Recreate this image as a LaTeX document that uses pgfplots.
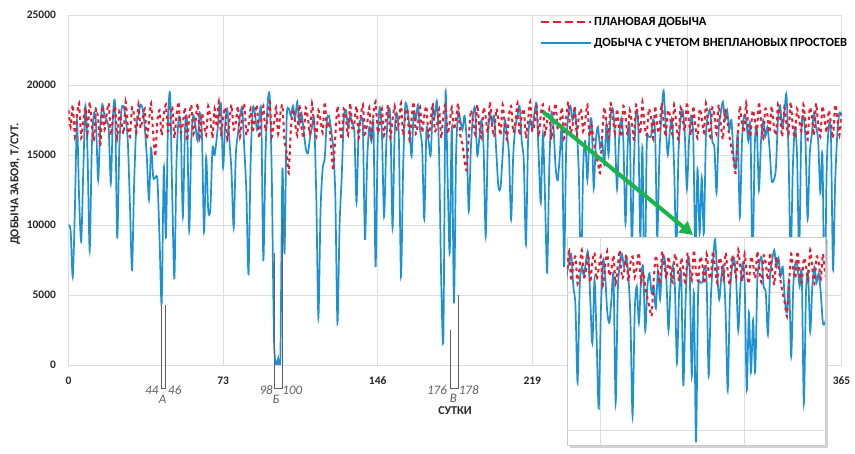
\documentclass[border=0pt]{standalone}
\usepackage{pgfplots}
\pgfplotsset{compat=1.18}
\usepackage{pgfplotstable}
\usepackage{graphicx}
\usepackage{fontspec}
\setmainfont{Carlito}
\usetikzlibrary{arrows.meta,shadows}
\definecolor{planred}{RGB}{232,28,48}
\definecolor{factblue}{RGB}{28,146,212}
\definecolor{gridgray}{RGB}{222,222,222}
\definecolor{arrowgreen}{RGB}{28,180,72}
\definecolor{annot}{RGB}{95,95,95}

\pgfplotstableread{
day plan fact
0 18200 10000
1 17000 9600
2 18600 6300
3 16300 11000
4 17800 17500
5 18700 12000
6 16200 8800
7 17500 14000
8 18400 18500
9 16600 15000
10 18800 8200
11 17200 15500
12 16100 18000
13 18300 17200
14 17600 13200
15 15600 17000
16 18500 18600
17 16800 17800
18 17900 17500
19 18700 16800
20 16400 13000
21 17700 17800
22 18500 18500
23 16200 9100
24 18100 15500
25 17300 18200
26 16500 18500
27 18800 17600
28 17000 16000
29 16300 11500
30 18400 6800
31 17800 13000
32 16600 17000
33 18600 17800
34 16900 18600
35 17600 18300
36 18300 17000
37 16100 14800
38 17400 11800
39 18700 15500
40 16500 13400
41 14900 13400
42 17500 13200
43 18200 9000
44 16400 4400
45 17900 14100
46 18600 9100
47 16700 17500
48 17300 19300
49 18500 12000
50 16200 6200
51 17800 14500
52 18800 17600
53 16600 17000
54 17200 10600
55 18400 16800
56 16000 17400
57 17700 9600
58 18600 16200
59 16500 17800
60 17400 17000
61 18700 16000
62 16300 18000
63 18000 16500
64 17100 9500
65 16400 14800
66 18500 11000
67 17600 11200
68 16200 15500
69 18300 15000
70 17000 16200
71 18800 17800
72 16500 18600
73 17700 14100
74 18400 17200
75 16100 18300
76 17500 16000
77 18600 13700
78 16800 9800
79 17300 15000
80 18500 16500
81 16300 17800
82 17900 18300
83 18700 15500
84 16400 12300
85 17100 6500
86 18300 14500
87 16600 18300
88 17800 18000
89 18600 16800
90 16200 17500
91 17400 18000
92 18500 7500
93 16700 15000
94 17600 18600
95 18800 19200
96 16300 13400
97 17200 2000
98 18400 0
99 16500 500
100 17900 0
101 18600 14000
102 16000 8000
103 15200 17500
104 13700 18300
105 16800 17800
106 18300 18500
107 17300 17600
108 16400 18800
109 18600 17200
110 17000 18000
111 16200 16800
112 18400 15500
113 17700 15100
114 16500 16200
115 18700 17000
116 17100 17500
117 16300 12000
118 18200 3400
119 17500 11000
120 16600 14000
121 18800 14800
122 16900 17500
123 17400 17800
124 15600 16800
125 13900 15500
126 16400 12000
127 18500 3000
128 17200 10000
129 16100 13400
130 18300 17600
131 17600 18200
132 16400 17000
133 18700 17800
134 16900 17200
135 17300 16600
136 18500 11600
137 16200 16800
138 17800 17500
139 18600 17000
140 16500 9000
141 17200 14500
142 18400 17000
143 16300 16000
144 17900 17200
145 18800 7000
146 16600 16000
147 17100 18400
148 18300 16500
149 16400 10600
150 17700 15500
151 18600 18200
152 16200 17500
153 17500 9800
154 18500 16500
155 16800 18000
156 17300 16200
157 18700 6300
158 16400 14000
159 17900 18500
160 18300 18300
161 16100 17000
162 17600 14900
163 18800 18000
164 16500 17500
165 17200 18600
166 18400 16800
167 16600 15500
168 17800 10400
169 18500 16800
170 16300 16000
171 17400 15000
172 18700 18200
173 16700 17800
174 17100 18800
175 18300 15000
176 16200 6000
177 17900 1900
178 18600 19300
179 16500 13500
180 17300 8000
181 18400 17000
182 16800 4400
183 17600 15000
184 18700 18000
185 16400 17500
186 15800 16800
187 14600 17800
188 13900 16000
189 16300 11000
190 18200 15500
191 17400 17800
192 16500 18300
193 18600 15000
194 17000 16200
195 16200 17500
196 18400 15500
197 17700 9200
198 16600 16000
199 18800 18000
200 17100 17200
201 16300 17800
202 18300 15200
203 17500 12700
204 16400 12700
205 18600 15000
206 17200 17500
207 16100 16500
208 17900 15000
209 18500 10400
210 16600 15000
211 17300 17000
212 18700 17800
213 16400 18500
214 17800 16000
215 18300 14500
216 16200 8600
217 17500 16000
218 18800 17500
219 16700 16800
220 17200 18000
221 18500 18600
222 16300 15000
223 17900 11600
224 18600 16500
225 16500 12000
226 17400 6600
227 18300 14000
228 16100 18000
229 17700 17000
230 18700 14100
231 16800 13200
232 17300 15000
233 18400 16800
234 16200 7000
235 17600 15500
236 18800 17800
237 16600 18500
238 17100 17500
239 18500 18200
240 16400 16800
241 17800 13500
242 18300 6000
243 16700 14000
244 17500 16000
245 18600 13200
246 16300 16500
247 17100 17500
248 16000 12600
249 15100 16000
250 14400 17000
251 13700 15500
252 16500 16000
253 18400 14300
254 17300 17200
255 16200 15000
256 18700 17800
257 17600 18300
258 16600 16500
259 18300 12600
260 17000 16200
261 16300 17600
262 18500 16000
263 17800 10100
264 16400 15500
265 18200 17000
266 17300 8400
267 16100 14500
268 18600 18000
269 17500 17200
270 16500 9100
271 18800 15500
272 17100 4000
273 16400 15500
274 18300 16300
275 17700 16300
276 16200 17500
277 18500 16500
278 17000 9100
279 16600 15000
280 18700 17800
281 17400 19600
282 16300 17000
283 18200 15000
284 17800 16800
285 16500 17500
286 18600 14000
287 17200 8000
288 16100 15000
289 18400 17500
290 17600 18200
291 16700 16500
292 18800 12600
293 17300 16000
294 16400 17800
295 18500 16300
296 17000 8000
297 16200 14000
298 18300 9400
299 17700 13400
300 16600 9400
301 18700 16500
302 17100 17800
303 16300 18200
304 18400 16000
305 17800 15500
306 16500 12300
307 18600 16800
308 17200 18000
309 16100 18800
310 18300 17500
311 17500 18200
312 16400 16800
313 15500 17500
314 14700 15000
315 13700 14000
316 16200 16500
317 18500 10600
318 17300 16000
319 16600 17800
320 18700 17500
321 17000 16000
322 16300 17000
323 18200 7000
324 17600 15500
325 16500 17000
326 18800 12500
327 17400 16000
328 16200 17500
329 18300 16300
330 17900 17000
331 16600 15500
332 18500 13200
333 17100 13200
334 16400 14000
335 18600 17500
336 17700 18500
337 16300 17000
338 18400 18000
339 17200 19300
340 16500 15000
341 18800 7500
342 17000 14000
343 16200 17000
344 18300 15000
345 17500 8000
346 16700 16500
347 18600 17800
348 17300 16000
349 16100 10400
350 18400 15000
351 17800 16500
352 16400 18000
353 18700 17000
354 17100 16000
355 16300 12300
356 18500 15000
357 17600 4300
358 16600 14000
359 18200 17000
360 17300 16500
361 16200 6800
362 18600 13000
363 17700 16500
364 16400 18000
365 18000 17800
}\datatable

\newcommand{\annfont}{\fontsize{13}{13}\selectfont\itshape}

\begin{document}
\begin{tikzpicture}
\useasboundingbox (0,0) rectangle (855pt,454pt);
\begin{axis}[
  at={(68.5pt,89pt)}, anchor=south west,
  scale only axis, width=773pt, height=350pt,
  xmin=0, xmax=365, ymin=0, ymax=25000,
  xtick={0,73,146,219,292,365},
  ytick={0,5000,10000,15000,20000,25000},
  scaled ticks=false,
  grid=major,
  major grid style={draw=gridgray, line width=0.7pt},
  axis line style={draw=gridgray, line width=0.7pt},
  major tick length=0pt,
  tick label style={font=\fontsize{11.5}{12}\selectfont\bfseries, text=black!85},
  /pgf/number format/assume math mode=true,
  /pgf/number format/1000 sep={},
  yticklabel style={xshift=-9pt},
  xticklabel style={yshift=-8pt},
  ylabel={ДОБЫЧА ЗАБОЯ, Т/СУТ.},
  ylabel style={at={(axis description cs:-0.0692,0.517)}, anchor=center, font=\fontsize{12}{13}\selectfont\bfseries, text=black!85},
  xlabel={СУТКИ},
  xlabel style={at={(axis description cs:0.5,-0.131)}, anchor=center, font=\fontsize{12}{13}\selectfont\bfseries, text=black!85},
  clip mode=individual,
  legend style={at={(0.61,1.0)}, anchor=north west, draw=none, fill=none,
    inner sep=0pt, font=\fontsize{12.5}{13}\selectfont\bfseries, row sep=7pt,
    /tikz/every even column/.append style={column sep=3pt}},
  legend image code/.code={\draw[#1] (0pt,0pt) -- (50pt,0pt);},
  legend cell align=left,
]
\addlegendimage{planred, line width=2pt, dash pattern=on 8pt off 4pt}
\addlegendentry{ПЛАНОВАЯ ДОБЫЧА}
\addlegendimage{factblue, line width=1.8pt}
\addlegendentry{ДОБЫЧА С УЧЕТОМ ВНЕПЛАНОВЫХ ПРОСТОЕВ}

\addplot[factblue, line width=1.7pt, smooth, tension=0.45, forget plot] table[x=day,y=fact]{\datatable};
\addplot[planred, line width=2pt, dash pattern=on 3.5pt off 3.5pt, smooth, tension=0.3, forget plot] table[x=day,y=plan]{\datatable};

% annotations A, B, V
\draw[annot, line width=0.6pt] (axis cs:43.6,4300) -- (axis cs:43.6,-1640) -- (axis cs:45.9,-1640) -- (axis cs:45.9,4300);
\node[annot, font=\annfont, inner sep=0pt] at (axis cs:39.4,-1780) {44};
\node[annot, font=\annfont, inner sep=0pt] at (axis cs:50.2,-1780) {46};
\node[annot, font=\annfont, inner sep=0pt] at (axis cs:44.4,-2420) {А};

\draw[annot, line width=0.6pt] (axis cs:97.3,8000) -- (axis cs:97.3,-1640) -- (axis cs:101.1,-1640) -- (axis cs:101.1,10500);
\node[annot, font=\annfont, inner sep=0pt] at (axis cs:93.3,-1780) {98};
\node[annot, font=\annfont, inner sep=0pt] at (axis cs:105.7,-1780) {100};
\node[annot, font=\annfont, inner sep=0pt] at (axis cs:98.0,-2420) {Б};

\draw[annot, line width=0.6pt] (axis cs:180.1,2500) -- (axis cs:180.1,-1640) -- (axis cs:184.0,-1640) -- (axis cs:184.0,5000);
\node[annot, font=\annfont, inner sep=0pt] at (axis cs:174.0,-1780) {176};
\node[annot, font=\annfont, inner sep=0pt] at (axis cs:189.0,-1780) {178};
\node[annot, font=\annfont, inner sep=0pt] at (axis cs:181.8,-2380) {В};

\draw[arrowgreen, line width=4pt, -{Triangle[length=13pt,width=14pt]}] (axis cs:224.1,18071) -- (axis cs:294.9,9286);
\end{axis}

% inset panel
\fill[white, drop shadow={shadow xshift=3pt, shadow yshift=-3pt, opacity=0.35}] (567pt,9pt) rectangle (825pt,217pt);
\draw[gray!40, line width=0.6pt] (567pt,9pt) rectangle (825pt,217pt);
\begin{axis}[
  at={(567pt,9pt)}, anchor=south west,
  scale only axis, width=258pt, height=208pt,
  xmin=211, xmax=333, ymin=3800, ymax=19800,
  xtick={227,295}, ytick={4900,15570},
  scaled ticks=false,
  xticklabels={}, yticklabels={},
  major tick length=0pt,
  grid=major,
  major grid style={draw=gridgray, line width=0.7pt},
  axis line style={draw=none},
]
\addplot[factblue, line width=1.7pt, smooth, tension=0.45] table[x=day,y=fact]{\datatable};
\addplot[planred, line width=2pt, dash pattern=on 3.5pt off 3.5pt, smooth, tension=0.3] table[x=day,y=plan]{\datatable};
\end{axis}
\end{tikzpicture}
\end{document}
